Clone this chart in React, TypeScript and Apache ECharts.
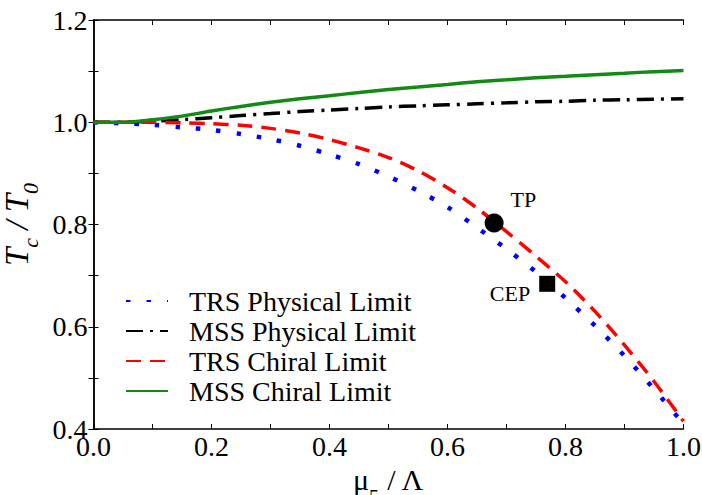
import React, { useEffect, useRef } from "react";
import * as echarts from "echarts";

const xs = [0, 0.05, 0.1, 0.15, 0.2, 0.25, 0.3, 0.35, 0.4, 0.45, 0.5, 0.55, 0.6, 0.65, 0.7, 0.75, 0.8, 0.85, 0.9, 0.95, 1.0];
const trsPhysical = [1.0, 0.998, 0.995, 0.99, 0.985, 0.977, 0.967, 0.954, 0.937, 0.918, 0.894, 0.866, 0.834, 0.794, 0.752, 0.707, 0.656, 0.602, 0.543, 0.478, 0.41];
const mssPhysical = [1.0, 1.0, 1.002, 1.005, 1.009, 1.013, 1.017, 1.021, 1.024, 1.027, 1.03, 1.032, 1.034, 1.036, 1.038, 1.04, 1.041, 1.043, 1.044, 1.045, 1.046];
const trsChiral = [1.0, 1.0, 1.0, 0.999, 0.997, 0.994, 0.988, 0.979, 0.966, 0.95, 0.931, 0.905, 0.872, 0.832, 0.786, 0.738, 0.688, 0.63, 0.564, 0.493, 0.415];
const mssChiral = [1.0, 1.0, 1.005, 1.012, 1.022, 1.031, 1.039, 1.046, 1.052, 1.058, 1.064, 1.069, 1.074, 1.079, 1.083, 1.087, 1.09, 1.093, 1.096, 1.099, 1.101];
const seriesNames = ["TRS Physical Limit", "MSS Physical Limit", "TRS Chiral Limit", "MSS Chiral Limit"];
const tpPoint = [0.679, 0.803];
const cepPoint = [0.769, 0.684];
const pointLabels = ["TP", "CEP"];

const FONT = "Liberation Serif";

function pairs(ys: number[]) {
  return xs.map((x, i) => [x, ys[i]]);
}

export default function App() {
  const ref = useRef<HTMLDivElement>(null);
  useEffect(() => {
    if (!ref.current) return;
    const chart = echarts.init(ref.current, undefined, { renderer: "svg" });
    const tickCommon = {
      axisLine: { show: true, lineStyle: { color: "#000", width: 1.5 } },
      axisTick: { show: true, inside: true, length: 5, lineStyle: { color: "#000", width: 1 } },
      minorTick: { show: true, splitNumber: 2, length: 5, lineStyle: { color: "#000", width: 1 } },
      splitLine: { show: false },
      minorSplitLine: { show: false },
    };
    chart.setOption({
      animation: false,
      backgroundColor: "#fff",
      grid: { left: 93.5, right: 18.5, top: 20, bottom: 66, outerBoundsMode: "none", containLabel: false },
      legend: {
        data: seriesNames,
        orient: "vertical",
        left: 125,
        top: 287,
        padding: 0,
        itemWidth: 42,
        itemHeight: 14,
        itemGap: 2,
        itemStyle: { opacity: 0 },
        textStyle: { fontFamily: FONT, fontSize: 28, color: "#000", lineHeight: 27, padding: [0, 0, 0, 16] },
      },
      xAxis: [
        {
          type: "value",
          min: 0,
          max: 1,
          interval: 0.2,
          position: "bottom",
          ...tickCommon,
          axisLabel: {
            fontFamily: FONT,
            fontSize: 28,
            color: "#000",
            margin: 3,
            hideOverlap: false,
            formatter: (v: number) => v.toFixed(1),
          },
          name: "{a|μ}{s|5}{a| / Λ}",
          nameLocation: "middle",
          nameGap: 30,
          nameTextStyle: {
            rich: {
              a: { fontFamily: FONT, fontSize: 30, color: "#000", lineHeight: 34 },
              s: { fontFamily: FONT, fontSize: 20, color: "#000", verticalAlign: "bottom", lineHeight: 34, padding: [0, 0, -10, 0] },
            },
          },
        },
        {
          type: "value",
          min: 0,
          max: 1,
          interval: 0.2,
          position: "top",
          ...tickCommon,
          axisLabel: { show: false },
        },
      ],
      yAxis: [
        {
          type: "value",
          min: 0.4,
          max: 1.2,
          interval: 0.2,
          position: "left",
          ...tickCommon,
          axisLabel: {
            fontFamily: FONT,
            fontSize: 28,
            color: "#000",
            margin: 6,
            hideOverlap: false,
            formatter: (v: number) => v.toFixed(1),
          },
          name: "{t|T}{s|c}{t| / T}{s|0}",
          nameLocation: "middle",
          nameRotate: 90,
          nameGap: 59,
          nameTextStyle: {
            rich: {
              t: { fontFamily: FONT, fontStyle: "italic", fontSize: 33, color: "#000", lineHeight: 34 },
              s: { fontFamily: FONT, fontStyle: "italic", fontSize: 22, color: "#000", verticalAlign: "bottom", lineHeight: 34, padding: [0, 0, -8, 0] },
            },
          },
        },
        {
          type: "value",
          min: 0.4,
          max: 1.2,
          interval: 0.2,
          position: "right",
          ...tickCommon,
          axisLabel: { show: false },
        },
      ],
      series: [
        {
          name: seriesNames[0],
          type: "line",
          data: pairs(trsPhysical),
          smooth: 0.3,
          symbol: "none",
          showSymbol: false,
          lineStyle: { color: "#0000ff", width: 4.5, type: [4.5, 16], cap: "butt" },
          itemStyle: { color: "#0000ff" },
          z: 3,
        },
        {
          name: seriesNames[1],
          type: "line",
          data: pairs(mssPhysical),
          smooth: 0.3,
          symbol: "none",
          showSymbol: false,
          lineStyle: { color: "#000000", width: 3.5, type: [17, 7, 3, 7], cap: "butt" },
          itemStyle: { color: "#000000" },
          z: 3,
        },
        {
          name: seriesNames[2],
          type: "line",
          data: pairs(trsChiral),
          smooth: 0.3,
          symbol: "none",
          showSymbol: false,
          lineStyle: { color: "#ff0000", width: 3.5, type: [15, 9], cap: "butt" },
          itemStyle: { color: "#ff0000" },
          z: 3,
        },
        {
          name: seriesNames[3],
          type: "line",
          data: pairs(mssChiral),
          smooth: 0.3,
          symbol: "none",
          showSymbol: false,
          lineStyle: { color: "#138a13", width: 3.5, type: "solid" },
          itemStyle: { color: "#138a13" },
          z: 4,
        },
        {
          name: pointLabels[0],
          type: "scatter",
          data: [tpPoint],
          symbol: "circle",
          symbolSize: 19,
          itemStyle: { color: "#000", opacity: 1 },
          label: {
            show: true,
            formatter: pointLabels[0],
            position: "right",
            distance: 7,
            offset: [0, -23],
            fontFamily: FONT,
            fontSize: 22,
            color: "#000",
          },
          z: 5,
        },
        {
          name: pointLabels[1],
          type: "scatter",
          data: [cepPoint],
          symbol: "rect",
          symbolSize: 16,
          itemStyle: { color: "#000", opacity: 1 },
          label: {
            show: true,
            formatter: pointLabels[1],
            position: "left",
            distance: 9,
            offset: [0, 10],
            fontFamily: FONT,
            fontSize: 22,
            color: "#000",
          },
          z: 5,
        },
      ],
    });
    return () => chart.dispose();
  }, []);
  return <div ref={ref} style={{ position: "fixed", left: 0, top: 0, width: 702, height: 495 }} />;
}
